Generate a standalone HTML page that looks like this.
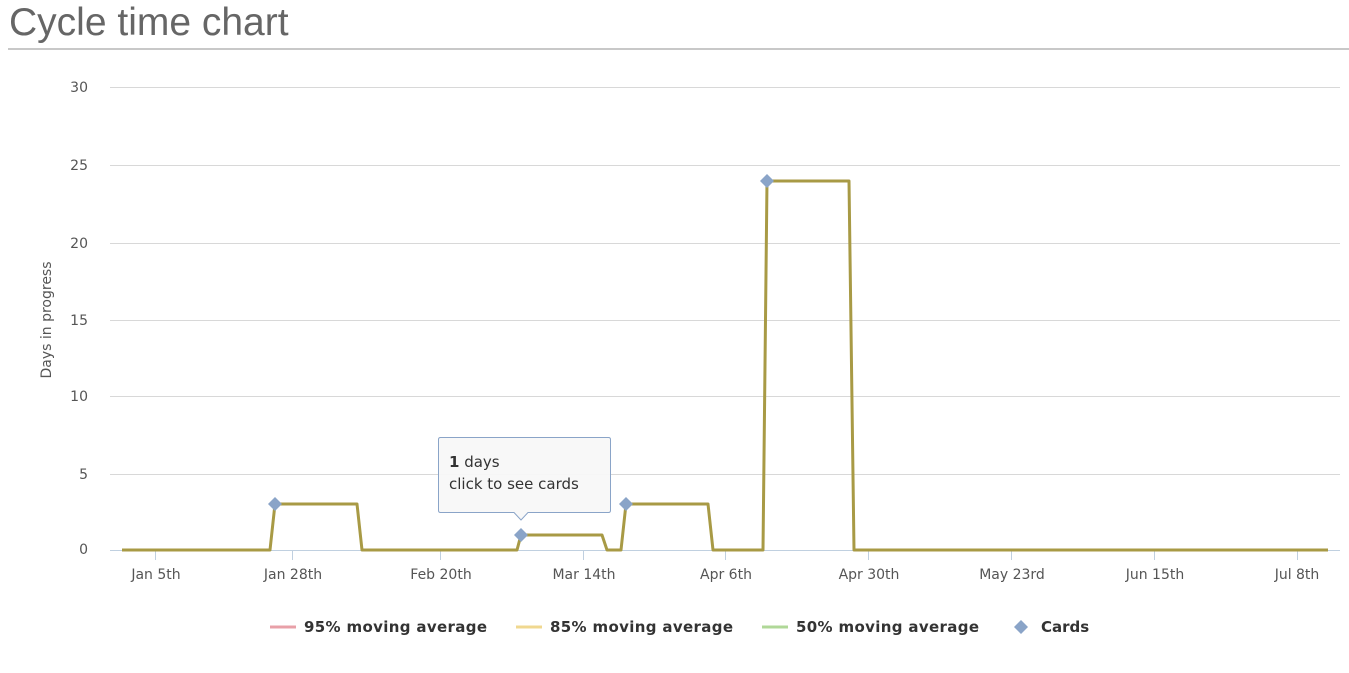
<!DOCTYPE html>
<html><head><meta charset="utf-8"><style>
body{margin:0;background:#fff;width:1349px;height:673px;overflow:hidden;font-family:"Liberation Sans",sans-serif;}
h1{position:absolute;left:9px;top:1px;margin:0;font-weight:normal;font-size:39px;color:#666;}
.rule{position:absolute;left:8px;top:48px;width:1341px;height:2px;background:#c8c8c8;}
svg{position:absolute;left:0;top:0;}
</style></head><body>
<h1>Cycle time chart</h1>
<div class="rule"></div>
<svg width="1349" height="673" font-family="DejaVu Sans, sans-serif">
<g stroke="#d8d8d8" stroke-width="1">
<line x1="110" x2="1340" y1="87.5" y2="87.5"/>
<line x1="110" x2="1340" y1="165.5" y2="165.5"/>
<line x1="110" x2="1340" y1="243.5" y2="243.5"/>
<line x1="110" x2="1340" y1="320.5" y2="320.5"/>
<line x1="110" x2="1340" y1="396.5" y2="396.5"/>
<line x1="110" x2="1340" y1="474.5" y2="474.5"/>
</g>
<line x1="110" x2="1340" y1="550.5" y2="550.5" stroke="#c0d0e0"/>
<g stroke="#c0d0e0">
<line x1="155.5" x2="155.5" y1="550" y2="560"/><line x1="292.5" x2="292.5" y1="550" y2="560"/>
<line x1="440.5" x2="440.5" y1="550" y2="560"/><line x1="583.5" x2="583.5" y1="550" y2="560"/>
<line x1="725.5" x2="725.5" y1="550" y2="560"/><line x1="868.5" x2="868.5" y1="550" y2="560"/>
<line x1="1011.5" x2="1011.5" y1="550" y2="560"/><line x1="1154.5" x2="1154.5" y1="550" y2="560"/>
<line x1="1297.5" x2="1297.5" y1="550" y2="560"/>
</g>
<g font-size="14" fill="#555" text-anchor="end">
<text x="88" y="92">30</text><text x="88" y="170">25</text><text x="88" y="248">20</text>
<text x="88" y="325">15</text><text x="88" y="401">10</text><text x="88" y="479">5</text><text x="88" y="554">0</text>
</g>
<text transform="translate(51,320) rotate(-90)" font-size="14" fill="#555" text-anchor="middle">Days in progress</text>
<g font-size="14" fill="#555" text-anchor="middle">
<text x="156" y="579">Jan 5th</text><text x="293" y="579">Jan 28th</text><text x="441" y="579">Feb 20th</text>
<text x="584" y="579">Mar 14th</text><text x="726" y="579">Apr 6th</text><text x="869" y="579">Apr 30th</text>
<text x="1012" y="579">May 23rd</text><text x="1155" y="579">Jun 15th</text><text x="1297" y="579">Jul 8th</text>
</g>
<polyline fill="none" stroke="#a89a45" stroke-width="3" stroke-linejoin="round" points="122,550 270,550 275,504 357,504 362,550 517,550 521,535 602,535 607,550 621,550 626,504 708,504 713,550 763,550 767,181 849,181 854,550 1328,550"/>
<g fill="#8aa4c8">
<path d="M275,497 L282,504 L275,511 L268,504Z"/>
<path d="M521,528 L528,535 L521,542 L514,535Z"/>
<path d="M626,497 L633,504 L626,511 L619,504Z"/>
<path d="M767,174 L774,181 L767,188 L760,181Z"/>
</g>
<path d="M440.5,437.5 H608.5 Q610.5,437.5 610.5,439.5 V510.5 Q610.5,512.5 608.5,512.5 H528 L521,520 L514,512.5 H440.5 Q438.5,512.5 438.5,510.5 V439.5 Q438.5,437.5 440.5,437.5Z" fill="#f8f8f8" fill-opacity="0.95" stroke="#8aa4c8" stroke-width="1"/>
<text x="449" y="467" font-size="15" fill="#333"><tspan font-weight="bold">1</tspan> days</text>
<text x="449" y="489" font-size="15" fill="#333">click to see cards</text>
<g font-size="15" font-weight="bold" fill="#333">
<line x1="270" x2="296" y1="627" y2="627" stroke="#e8a0a8" stroke-width="3"/><text x="304" y="632" textLength="183">95% moving average</text>
<line x1="516" x2="542" y1="627" y2="627" stroke="#f0d890" stroke-width="3"/><text x="550" y="632" textLength="183">85% moving average</text>
<line x1="762" x2="788" y1="627" y2="627" stroke="#b0d898" stroke-width="3"/><text x="796" y="632" textLength="183">50% moving average</text>
<path d="M1021,620 L1028,627 L1021,634 L1014,627Z" fill="#8aa4c8"/><text x="1041" y="632">Cards</text>
</g>
</svg>
</body></html>
